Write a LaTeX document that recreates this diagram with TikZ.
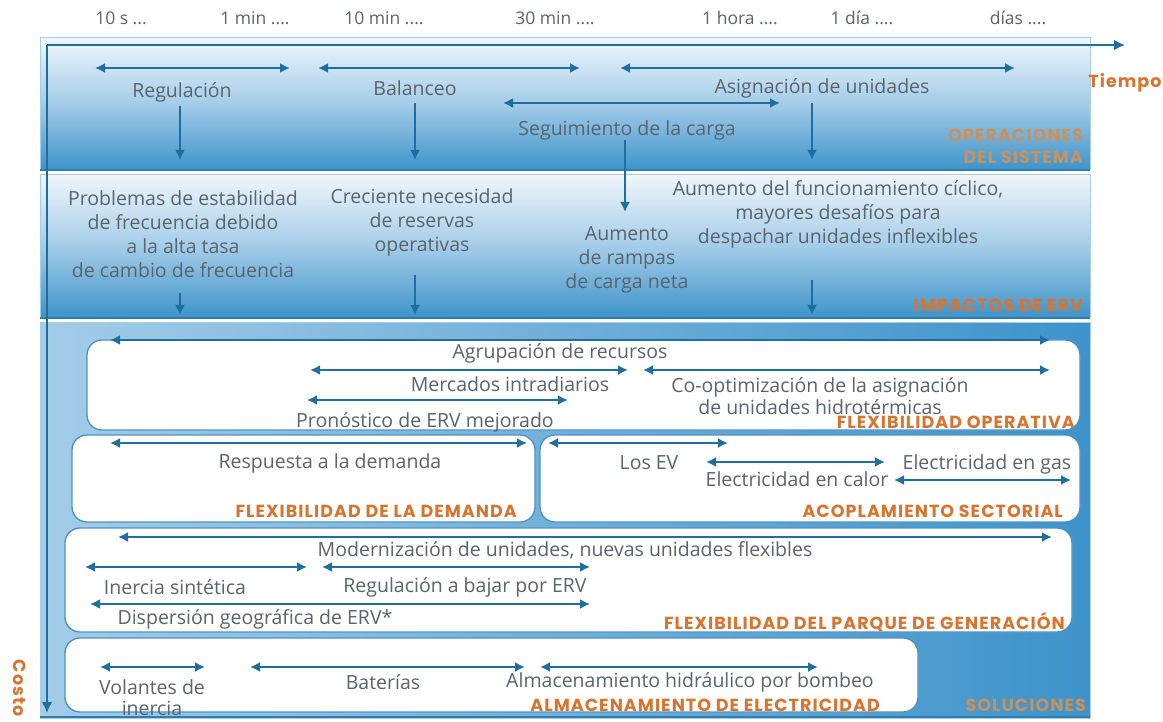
\documentclass[tikz,border=0pt]{standalone}
\usepackage{fontspec}
\setmainfont{Open Sans}
\newfontfamily\catfont{Poppins}[LetterSpace=6.0]
\usetikzlibrary{arrows.meta}
\definecolor{arr}{HTML}{1E6E9F}
\definecolor{txt}{HTML}{5A646C}
\definecolor{org}{HTML}{D8742E}
\definecolor{orgdim}{HTML}{C9915E}
\definecolor{pan}{HTML}{3D93CA}
\definecolor{panlight}{HTML}{F0F6FB}
\definecolor{panmid}{HTML}{A3CCE8}
\definecolor{edge}{HTML}{2B7DB4}
\definecolor{boxedge}{HTML}{4A92C4}
\definecolor{frame}{HTML}{A8CDE6}
\begin{document}
\begin{tikzpicture}[x=1pt,y=-1pt,
  rng/.style={arr, line width=2.6pt, {Latex[length=10pt,width=10pt]}-{Latex[length=10pt,width=10pt]}},
  dn/.style={arr, line width=2.6pt, -{Latex[length=10pt,width=10pt]}},
  axis/.style={arr, line width=2.2pt, -{Latex[length=11pt,width=11pt]}},
  lbl/.style={text=txt, font=\fontsize{19.5}{24}\selectfont, inner sep=0pt, align=center},
  tlbl/.style={text=txt, font=\fontsize{17.5}{20}\selectfont, inner sep=0pt},
  cat/.style={text=org, font=\catfont\bfseries\fontsize{17.5}{22}\selectfont, inner sep=0pt, align=right, anchor=east},
  catdim/.style={cat, text=orgdim},
  box/.style={draw=boxedge, line width=1.3pt, fill=white, rounded corners=15pt},
  panel/.style={draw=frame, line width=1pt},
]
\useasboundingbox (0,0) rectangle (1163,722);
\fill[white] (0,0) rectangle (1163,722);

% time labels
\node[tlbl] (t1) at (121,18) {10 s ...};
\node[tlbl] (t2) at (255,18) {1 min ....};
\node[tlbl] (t3) at (384,18) {10 min ....};
\node[tlbl] (t4) at (555,18) {30 min ....};
\node[tlbl] (t5) at (740,18) {1 hora ....};
\node[tlbl] (t6) at (862,18) {1 día ....};
\node[tlbl] (t7) at (1018,18) {días ....};

% panels
\shade[panel, top color=panlight, bottom color=pan, middle color=panmid] (40,38) rectangle (1090,170);
\draw[edge, line width=2pt] (40,170) -- (1090,170);
\shade[panel, top color=panlight, bottom color=pan, middle color=panmid] (40,175) rectangle (1090,318);
\draw[edge, line width=2pt] (40,318) -- (1090,318);
\shade[panel, left color=panmid, right color=pan] (40,323) rectangle (1090,718);
\draw[edge, line width=2pt] (40,717) -- (1090,717);

% ---------- OPERACIONES DEL SISTEMA ----------
\path (95,68) coordinate (regL) (290,68) coordinate (regR)
      (318,68) coordinate (balL) (580,68) coordinate (balR)
      (620,68) coordinate (asiL) (1015,68) coordinate (asiR)
      (503,103) coordinate (segL) (780,103) coordinate (segR);
\draw[rng] (regL) -- (regR);
\draw[rng] (balL) -- (balR);
\draw[rng] (asiL) -- (asiR);
\draw[rng] (segL) -- (segR);
\node[lbl] (reg) at (182,92) {Regulación};
\node[lbl] (bal) at (415,88) {Balanceo};
\node[lbl] (asi) at (822,88) {Asignación de unidades};
\node[lbl] (seg) at (627,130) {Seguimiento de la carga};
\node[catdim, align=right] (ops) at (1083,146) {OPERACIONES\\DEL SISTEMA};
\path (180,160) coordinate (regD) (415,160) coordinate (balD) (812,160) coordinate (asiD) (625,212) coordinate (segD);
\draw[dn] (180,106) -- (regD);
\draw[dn] (415,103) -- (balD);
\draw[dn] (812,103) -- (asiD);
\draw[dn] (seg.south -| segD) -- (segD);

% ---------- IMPACTOS DE ERV ----------
\node[lbl] (imp1) at (183,234) {Problemas de estabilidad\\de frecuencia debido\\a la alta tasa\\de cambio de frecuencia};
\node[lbl] (imp2) at (422,222) {Creciente necesidad\\de reservas\\operativas};
\node[lbl] (imp3) at (627,260) {Aumento\\de rampas\\de carga neta};
\node[lbl] (imp4) at (838,214) {Aumento del funcionamiento cíclico,\\mayores desafíos para\\despachar unidades inflexibles};
\node[cat] (impc) at (1083,305) {IMPACTOS DE ERV};
\path (180,315) coordinate (i1D) (415,315) coordinate (i2D) (812,315) coordinate (i4D);
\draw[dn] (180,293) -- (i1D);
\draw[dn] (415,275) -- (i2D);
\draw[dn] (812,280) -- (i4D);

% ---------- SOLUCIONES ----------
% Flexibilidad operativa
\draw[box] (87,340) rectangle (1080,430);
\path (110,340) coordinate (agL) (1050,340) coordinate (agR)
      (310,370) coordinate (meL) (628,370) coordinate (meR)
      (643,370) coordinate (coL) (1050,370) coordinate (coR)
      (307,400) coordinate (prL) (568,400) coordinate (prR);
\draw[rng] (agL) -- (agR);
\draw[rng] (meL) -- (meR);
\draw[rng] (coL) -- (coR);
\draw[rng] (prL) -- (prR);
\node[lbl] (ag) at (560,353) {Agrupación de recursos};
\node[lbl] (me) at (510,384) {Mercados intradiarios};
\node[lbl] (co) at (820,396) {Co-optimización de la asignación\\[-2pt]de unidades hidrotérmicas};
\node[lbl] (pr) at (425,422) {Pronóstico de ERV mejorado};
\node[cat] (fo) at (1075,422) {FLEXIBILIDAD OPERATIVA};

% Demanda
\draw[box] (72,435) rectangle (535,522);
\path (110,443) coordinate (reL) (527,443) coordinate (reR);
\draw[rng] (reL) -- (reR);
\node[lbl] (re) at (330,463) {Respuesta a la demanda};
\node[cat] (fd) at (517,511) {FLEXIBILIDAD DE LA DEMANDA};

% Acoplamiento sectorial
\draw[box] (540,435) rectangle (1080,522);
\path (548,443) coordinate (evL) (728,443) coordinate (evR)
      (706,462) coordinate (caL) (885,462) coordinate (caR)
      (894,480) coordinate (gaL) (1071,480) coordinate (gaR);
\draw[rng] (evL) -- (evR);
\draw[rng] (caL) -- (caR);
\draw[rng] (gaL) -- (gaR);
\node[lbl] (ev) at (649,463) {Los EV};
\node[lbl] (ca) at (797,479) {Electricidad en calor};
\node[lbl] (ga) at (987,464) {Electricidad en gas};
\node[cat] (as) at (1063,511) {ACOPLAMIENTO SECTORIAL};

% Parque de generacion
\draw[box] (65,528) rectangle (1072,632);
\path (118,537) coordinate (moL) (1052,537) coordinate (moR)
      (85,567) coordinate (inL) (307,567) coordinate (inR)
      (322,567) coordinate (rbL) (590,567) coordinate (rbR)
      (90,604) coordinate (diL) (590,604) coordinate (diR);
\draw[rng] (moL) -- (moR);
\draw[rng] (inL) -- (inR);
\draw[rng] (rbL) -- (rbR);
\draw[rng] (diL) -- (diR);
\node[lbl] (mo) at (565,550) {Modernización de unidades, nuevas unidades flexibles};
\node[lbl] (in) at (175,587) {Inercia sintética};
\node[lbl] (rb) at (465,587) {Regulación a bajar por ERV};
\node[lbl] (di) at (255,619) {Dispersión geográfica de ERV*};
\node[cat] (pg) at (1065,622) {FLEXIBILIDAD DEL PARQUE DE GENERACIÓN};

% Almacenamiento
\draw[box] (65,638) rectangle (918,712);
\path (100,667) coordinate (voL) (205,667) coordinate (voR)
      (250,667) coordinate (baL) (525,667) coordinate (baR)
      (540,667) coordinate (hiL) (818,667) coordinate (hiR);
\draw[rng] (voL) -- (voR);
\draw[rng] (baL) -- (baR);
\draw[rng] (hiL) -- (hiR);
\node[lbl] (vo) at (152,698) {Volantes de\\[-3pt]inercia};
\node[lbl] (ba) at (383,682) {Baterías};
\node[lbl] (hi) at (690,682) {Almacenamiento hidráulico por bombeo};
\node[cat] (al) at (880,705) {ALMACENAMIENTO DE ELECTRICIDAD};
\node[catdim] (so) at (1086,705) {SOLUCIONES};

% axes
\coordinate (o) at (47,45);
\coordinate (tEnd) at (1125,45);
\coordinate (cEnd) at (47,713);
\draw[axis] (o) -- (tEnd);
\draw[axis] (o) -- (cEnd);
\node[cat, anchor=center, align=center] (tiempo) at (1125,83) {Tiempo};
\node[cat, anchor=center, rotate=-90] (costo) at (20,688) {Costo};
\end{tikzpicture}
\end{document}
